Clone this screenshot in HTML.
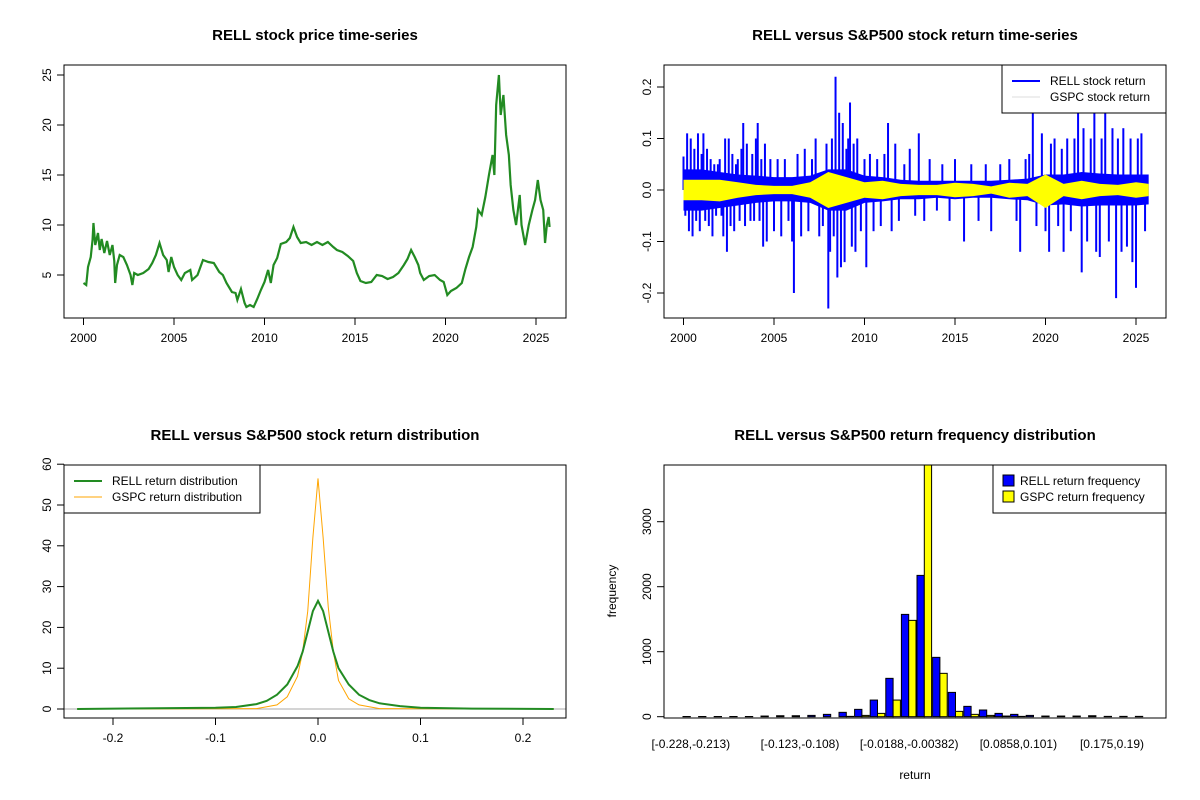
<!DOCTYPE html>
<html><head><meta charset="utf-8">
<style>
body{margin:0;background:#fff}
svg{display:block;font-family:"Liberation Sans",Arial,sans-serif}
.t{font-weight:bold;font-size:15px;text-anchor:middle}
.tk{font-size:12px}
</style></head><body>
<svg id="s" width="1200" height="800" xmlns="http://www.w3.org/2000/svg"></svg>
<script>
// ---------- data ----------
const priceYears=[2000.0,2000.15,2000.25,2000.4,2000.5,2000.55,2000.65,2000.8,2000.9,2001.0,2001.15,2001.3,2001.45,2001.6,2001.7,2001.75,2001.85,2002.0,2002.2,2002.4,2002.6,2002.7,2002.8,2003.0,2003.3,2003.6,2003.8,2004.0,2004.2,2004.4,2004.6,2004.7,2004.85,2005.0,2005.2,2005.4,2005.6,2005.9,2006.0,2006.3,2006.6,2006.9,2007.2,2007.5,2007.7,2007.9,2008.2,2008.4,2008.5,2008.7,2008.9,2009.0,2009.2,2009.4,2009.6,2009.8,2010.0,2010.2,2010.35,2010.5,2010.7,2010.9,2011.2,2011.4,2011.6,2011.8,2012.0,2012.3,2012.6,2012.9,2013.2,2013.5,2013.8,2014.0,2014.3,2014.6,2014.9,2015.1,2015.3,2015.6,2015.9,2016.2,2016.5,2016.8,2017.1,2017.4,2017.7,2017.9,2018.1,2018.3,2018.5,2018.6,2018.8,2019.1,2019.4,2019.7,2019.9,2020.1,2020.3,2020.6,2020.9,2021.1,2021.3,2021.5,2021.7,2021.8,2022.0,2022.2,2022.4,2022.6,2022.7,2022.8,2022.95,2023.05,2023.2,2023.35,2023.5,2023.6,2023.75,2023.9,2024.1,2024.2,2024.4,2024.6,2024.8,2024.95,2025.1,2025.25,2025.4,2025.5,2025.6,2025.7,2025.75];
const priceValues=[4.2,4.0,5.8,6.8,8.5,10.2,8.0,9.2,7.5,8.6,7.2,8.4,7.0,8.0,6.4,4.2,6.0,7.0,6.8,6.0,5.0,4.0,5.2,5.0,5.2,5.6,6.2,7.0,8.2,7.0,6.5,5.3,6.8,5.8,5.0,4.5,5.2,5.5,4.5,5.0,6.5,6.3,6.2,5.3,5.0,4.2,3.3,3.2,2.5,3.6,2.2,1.8,2.0,1.8,2.6,3.5,4.3,5.5,4.2,6.0,6.7,8.1,8.3,8.7,9.8,8.8,8.2,8.3,8.0,8.3,8.0,8.3,7.8,7.5,7.3,6.9,6.4,5.2,4.4,4.2,4.3,5.0,4.9,4.6,4.8,5.2,6.0,6.6,7.5,6.8,6.0,5.2,4.5,4.9,5.0,4.5,4.3,3.0,3.4,3.7,4.2,5.6,6.8,7.8,9.8,11.5,11.0,12.8,15.0,17.0,15.0,22.0,25.0,21.0,23.0,19.0,17.0,14.0,11.5,10.0,13.0,10.0,8.0,10.0,11.5,12.5,14.5,12.5,11.5,8.2,10.0,10.8,9.8];
const bandYears=[2000,2001,2002,2003,2004,2005,2006,2007,2008,2009,2010,2011,2012,2013,2014,2015,2016,2017,2018,2019,2020,2021,2022,2023,2024,2025,2025.7];
const rellHi=[0.04,0.04,0.035,0.03,0.028,0.025,0.025,0.028,0.04,0.04,0.028,0.025,0.02,0.018,0.018,0.018,0.018,0.018,0.02,0.022,0.03,0.03,0.035,0.032,0.03,0.03,0.03];
const rellLo=[-0.04,-0.04,-0.035,-0.03,-0.025,-0.022,-0.022,-0.025,-0.04,-0.04,-0.025,-0.022,-0.018,-0.018,-0.015,-0.018,-0.015,-0.015,-0.018,-0.02,-0.03,-0.028,-0.032,-0.03,-0.03,-0.03,-0.028];
const gspcHi=[0.02,0.02,0.02,0.015,0.01,0.008,0.008,0.015,0.035,0.025,0.015,0.018,0.012,0.01,0.01,0.014,0.012,0.007,0.014,0.012,0.03,0.012,0.018,0.012,0.01,0.015,0.012];
const gspcLo=[-0.02,-0.02,-0.022,-0.015,-0.01,-0.008,-0.008,-0.015,-0.035,-0.025,-0.015,-0.018,-0.012,-0.01,-0.01,-0.014,-0.012,-0.007,-0.015,-0.012,-0.035,-0.012,-0.018,-0.012,-0.01,-0.015,-0.012];
const spikeYears=[2000.0,2000.1,2000.2,2000.3,2000.4,2000.5,2000.6,2000.7,2000.8,2000.9,2001.0,2001.1,2001.2,2001.3,2001.4,2001.5,2001.6,2001.7,2001.8,2001.9,2002.0,2002.1,2002.2,2002.3,2002.4,2002.5,2002.6,2002.7,2002.8,2002.9,2003.0,2003.1,2003.2,2003.3,2003.4,2003.5,2003.7,2003.8,2003.9,2004.0,2004.1,2004.2,2004.3,2004.4,2004.5,2004.6,2004.8,2005.0,2005.2,2005.4,2005.6,2005.8,2006.0,2006.1,2006.3,2006.5,2006.7,2006.9,2007.1,2007.3,2007.5,2007.7,2007.9,2008.0,2008.1,2008.2,2008.3,2008.4,2008.5,2008.6,2008.7,2008.8,2008.9,2009.0,2009.1,2009.2,2009.3,2009.4,2009.5,2009.6,2009.8,2010.0,2010.1,2010.3,2010.5,2010.7,2010.9,2011.1,2011.3,2011.5,2011.7,2011.9,2012.2,2012.5,2012.8,2013.0,2013.3,2013.6,2014.0,2014.3,2014.7,2015.0,2015.5,2015.9,2016.3,2016.7,2017.0,2017.5,2018.0,2018.4,2018.6,2018.9,2019.1,2019.3,2019.5,2019.8,2020.0,2020.2,2020.3,2020.5,2020.7,2020.9,2021.0,2021.2,2021.4,2021.6,2021.8,2022.0,2022.1,2022.3,2022.5,2022.7,2022.8,2023.0,2023.1,2023.3,2023.5,2023.7,2023.9,2024.0,2024.2,2024.3,2024.5,2024.7,2024.8,2025.0,2025.1,2025.3,2025.5];
const spikeValues=[0.065,-0.05,0.11,-0.08,0.1,-0.09,0.08,-0.06,0.11,-0.08,0.07,0.11,-0.06,0.08,-0.07,0.06,-0.09,0.05,-0.05,0.05,0.06,-0.05,-0.09,0.1,-0.12,0.1,-0.07,0.07,-0.08,0.05,0.06,-0.06,0.08,0.13,-0.07,0.09,-0.06,0.07,-0.06,0.1,0.13,-0.06,0.06,-0.11,0.09,-0.1,0.06,-0.08,0.06,-0.09,0.06,-0.06,-0.1,-0.2,0.07,-0.09,0.08,-0.08,0.06,0.1,-0.09,-0.07,0.09,-0.23,-0.12,0.1,-0.09,0.22,-0.17,0.15,-0.15,0.13,-0.14,0.08,0.1,0.17,-0.11,0.09,-0.12,0.1,-0.08,0.06,-0.15,0.07,-0.08,0.06,-0.07,0.07,0.13,-0.08,0.09,-0.06,0.05,0.08,-0.05,0.11,-0.06,0.06,-0.04,0.05,-0.06,0.06,-0.1,0.05,-0.06,0.05,-0.08,0.05,0.06,-0.06,-0.12,0.06,0.07,0.16,-0.07,0.11,-0.08,-0.12,0.09,0.1,-0.07,0.08,-0.12,0.1,-0.08,0.1,0.15,-0.16,0.12,-0.1,0.1,0.17,-0.12,-0.13,0.1,0.15,-0.1,0.12,-0.21,0.1,-0.12,0.12,-0.11,0.1,-0.14,-0.19,0.1,0.11,-0.08];
const densX=[-0.235,-0.1,-0.08,-0.06,-0.05,-0.04,-0.03,-0.02,-0.015,-0.01,-0.005,0,0.005,0.01,0.015,0.02,0.03,0.04,0.05,0.06,0.08,0.1,0.15,0.23];
const rellDens=[0,0.3,0.5,1.2,2,3.5,6,10.5,14,19,24,26.5,24,19,14,10,6,3.5,2.2,1.4,0.7,0.3,0.1,0];
const gspcDensX=[-0.235,-0.06,-0.04,-0.03,-0.02,-0.015,-0.01,-0.005,0,0.005,0.01,0.015,0.02,0.03,0.04,0.06,0.23];
const gspcDens=[0,0.1,1,3,8,14,24,42,56.5,42,25,14,7,2.5,1,0.1,0];
const binLabels=["[-0.228,-0.213)","[-0.123,-0.108)","[-0.0188,-0.00382)","[0.0858,0.101)","[0.175,0.19)"];
const binLabelIdx=[0,7,14,21,27];
const rellFreq=[3,3,3,3,3,10,15,15,20,36,67,113,256,590,1574,2174,913,374,159,103,51,36,20,10,10,10,15,5,5,5];
const gspcFreq=[0,0,0,0,0,0,0,0,0,0,5,20,51,256,1482,4200,667,82,36,20,10,5,0,0,0,0,0,0,0,0];
// ---------- helpers ----------
const S=document.getElementById('s');const NS='http://www.w3.org/2000/svg';
function mk(tag,at,txt){const e=document.createElementNS(NS,tag);for(const k in at)e.setAttribute(k,at[k]);if(txt!==undefined)e.textContent=txt;S.appendChild(e);return e;}
function box(x0,y0,x1,y1,name){const e=mk('rect',{x:x0,y:y0,width:x1-x0,height:y1-y0,fill:'none',stroke:'#000'});

}
function title(x,y,t,name){const e=mk('text',{x:x,y:y,class:'t'},t);

}
function xaxis(ticks,labels,sx,y){mk('line',{x1:sx(ticks[0]),x2:sx(ticks[ticks.length-1]),y1:y,y2:y,stroke:'#000'});
ticks.forEach((t,i)=>{mk('line',{x1:sx(t),x2:sx(t),y1:y,y2:y+7,stroke:'#000'});const e=mk('text',{x:sx(t),y:y+24,class:'tk','text-anchor':'middle'},labels[i]);

});}
function yaxis(ticks,labels,sy,x){mk('line',{x1:x,x2:x,y1:sy(ticks[0]),y2:sy(ticks[ticks.length-1]),stroke:'#000'});
ticks.forEach((t,i)=>{mk('line',{x1:x-7,x2:x,y1:sy(t),y2:sy(t),stroke:'#000'});const e=mk('text',{x:x-13,y:sy(t),class:'tk','text-anchor':'middle',transform:`rotate(-90 ${x-13} ${sy(t)})`},labels[i]);

});}
function poly(xs,ys,sx,sy,stroke,w,name){const p=mk('polyline',{points:xs.map((v,i)=>sx(v)+','+sy(ys[i])).join(' '),fill:'none',stroke:stroke,'stroke-width':w});

}
function legend(x,y,w,h,items){const r=mk('rect',{x:x,y:y,width:w,height:h,fill:'#fff',stroke:'#000'});


items.forEach((it,i)=>{const cy=y+16+i*16;
if(it.type==='line')mk('line',{x1:x+10,x2:x+38,y1:cy,y2:cy,stroke:it.c,'stroke-width':it.w});
else mk('rect',{x:x+10,y:cy-6,width:11,height:11,fill:it.c,stroke:'#000'});
const e=mk('text',{x:x+(it.type==='line'?48:27),y:cy+4,class:'tk'},it.t);

});}
// ---------- panel 1 ----------
{const sx=v=>83.5+(v-2000)*18.1, sy=v=>325-v*10;
title(315,40,'RELL stock price time-series','price-chart-title');
poly(priceYears,priceValues,sx,sy,'#228B22',2.2,'price-line');
box(64,65,566,318,'price-plot-box');
xaxis([2000,2005,2010,2015,2020,2025],['2000','2005','2010','2015','2020','2025'],sx,318);
yaxis([5,10,15,20,25],['5','10','15','20','25'],sy,64);}
// ---------- panel 2 ----------
{const sx=v=>683.5+(v-2000)*18.1, sy=v=>190-v*515;
title(915,40,'RELL versus S&P500 stock return time-series','return-chart-title');
const band=(hi,lo,c,name)=>{const pts=bandYears.map((y,i)=>sx(y)+','+sy(hi[i])).concat(bandYears.slice().reverse().map((y,i)=>sx(y)+','+sy(lo[lo.length-1-i])));
const p=mk('polygon',{points:pts.join(' '),fill:c});

};
band(rellHi,rellLo,'#0000FF','rell-return-band');
spikeYears.forEach((y,i)=>{const l=mk('line',{x1:sx(y),x2:sx(y),y1:sy(0),y2:sy(spikeValues[i]),stroke:'#0000FF','stroke-width':2});

});
band(gspcHi,gspcLo,'#FFFF00','gspc-return-band');
box(664,65,1166,318,'return-plot-box');
xaxis([2000,2005,2010,2015,2020,2025],['2000','2005','2010','2015','2020','2025'],sx,318);
yaxis([-0.2,-0.1,0,0.1,0.2],['-0.2','-0.1','0.0','0.1','0.2'],sy,664);
legend(1002,65,164,48,[{type:'line',c:'#0000FF',w:2,t:'RELL stock return'},{type:'line',c:'#dddddd',w:1,t:'GSPC stock return'}]);}
// ---------- panel 3 ----------
{const sx=v=>318+v*1025, sy=v=>709-v*4.08;
title(315,440,'RELL versus S&P500 stock return distribution','density-chart-title');
mk('line',{x1:64,x2:566,y1:sy(0),y2:sy(0),stroke:'#aaa'});
poly(gspcDensX,gspcDens,sx,sy,'#FFA500',1,'gspc-density-line');
poly(densX,rellDens,sx,sy,'#228B22',2,'rell-density-line');
box(64,465,566,718,'density-plot-box');
xaxis([-0.2,-0.1,0,0.1,0.2],['-0.2','-0.1','0.0','0.1','0.2'],sx,718);
yaxis([0,10,20,30,40,50,60],['0','10','20','30','40','50','60'],sy,64);
legend(64,465,196,48,[{type:'line',c:'#228B22',w:2,t:'RELL return distribution'},{type:'line',c:'#FFA500',w:1,t:'GSPC return distribution'}]);}
// ---------- panel 4 ----------
{const gw=15.6, gx=i=>683+i*gw, sy=v=>716.7-v*0.065;
title(915,440,'RELL versus S&P500 return frequency distribution','histogram-chart-title');
rellFreq.forEach((v,i)=>{const top=Math.max(sy(v),465);
const b=mk('rect',{x:gx(i),y:top,width:gw/2-0.5,height:sy(0)-top,fill:'#0000FF',stroke:'#000','stroke-width':1});


const top2=Math.max(sy(gspcFreq[i]),465);
const c=mk('rect',{x:gx(i)+gw/2-0.5,y:top2,width:gw/2-0.5,height:sy(0)-top2,fill:'#FFFF00',stroke:'#000','stroke-width':1});

});
box(664,465,1166,718,'histogram-plot-box');
binLabelIdx.forEach((k,i)=>{const e=mk('text',{x:gx(k)+gw/2,y:748,class:'tk','text-anchor':'middle'},binLabels[i]);

});
yaxis([0,1000,2000,3000],['0','1000','2000','3000'],sy,664);
const xl=mk('text',{x:915,y:779,class:'tk','text-anchor':'middle'},'return');


const yl=mk('text',{x:616,y:591,class:'tk','text-anchor':'middle',transform:'rotate(-90 616 591)'},'frequency');


legend(993,465,173,48,[{type:'box',c:'#0000FF',t:'RELL return frequency'},{type:'box',c:'#FFFF00',t:'GSPC return frequency'}]);}
</script>
</body></html>
